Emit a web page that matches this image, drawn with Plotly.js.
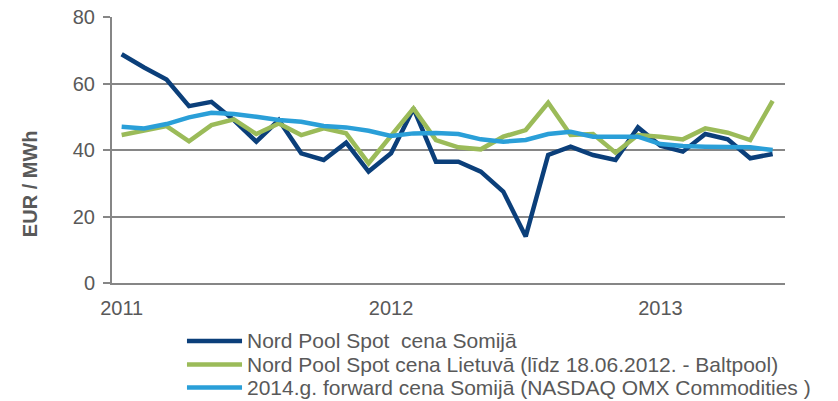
<!DOCTYPE html>
<html>
<head>
<meta charset="utf-8">
<script src="https://cdn.plot.ly/plotly-3.0.1.min.js"></script>
<style>html,body{margin:0;padding:0;background:#fff;}#chart{width:838px;height:401px;}</style>
</head>
<body>
<div id="chart"></div>
<script>
const months = ["2011-01","2011-02","2011-03","2011-04","2011-05","2011-06","2011-07","2011-08","2011-09","2011-10","2011-11","2011-12",
                "2012-01","2012-02","2012-03","2012-04","2012-05","2012-06","2012-07","2012-08","2012-09","2012-10","2012-11","2012-12",
                "2013-01","2013-02","2013-03","2013-04","2013-05","2013-06"];
const tickVals = ["2011-01","2012-01","2013-01"];
const tickText = ["2011","2012","2013"];
const seriesNames = ["Nord Pool Spot&nbsp; cena Somijā",
                     "Nord Pool Spot cena Lietuvā (līdz 18.06.2012. - Baltpool)",
                     "2014.g. forward cena Somijā (NASDAQ OMX Commodities )"];
const finland = [68.8,64.8,61.2,53.2,54.5,49,42.5,49,39,37,42.2,33.5,
                 39,52.5,36.5,36.5,33.5,27.5,14,38.5,41,38.5,37,46.8,
                 41.3,39.5,44.8,43.2,37.5,38.8];
const lithuania = [44.5,46,47.2,42.6,47.5,49.2,44.8,48,44.5,46.5,45,36,
                   44,52.5,43,40.8,40.2,44,46,54.2,44.5,44.8,39.2,44.5,
                   44,43.2,46.5,45.2,43,54.8];
const forward2014 = [47,46.5,47.8,49.8,51.2,50.8,50,49,48.5,47.2,46.8,45.8,
                     44.2,45,45.1,44.8,43.2,42.5,43,44.8,45.5,44,44,44,
                     41.8,41.2,41,41,40.8,40];
const colors = ["#0B3F7A","#9BBB59","#2A9FD8"];
const yTitle = "EUR / MWh";

const allSeries = [finland, lithuania, forward2014];
const font = "Arial, 'Liberation Sans', sans-serif";
const grey = "#595959";

const traces = allSeries.map((vals, k) => ({
  x: months, y: vals, type: "scatter", mode: "lines", name: seriesNames[k],
  line: {color: colors[k], width: 4.5}, showlegend: false, hoverinfo: "skip"
}));

// custom legend (long line samples like the original)
const shapes = [];
const annotations = [];
const legY = [-0.218, -0.306, -0.393];
colors.forEach((c, k) => {
  shapes.push({type: "line", xref: "paper", yref: "paper", x0: 0.1114, x1: 0.1932, y0: legY[k], y1: legY[k],
               line: {color: c, width: 4.5}});
  annotations.push({xref: "paper", yref: "paper", x: 0.197, y: legY[k], xanchor: "left", yanchor: "middle",
                    text: seriesNames[k], showarrow: false, font: {family: font, size: 21, color: grey}});
});
annotations.push({xref: "paper", yref: "paper", x: -0.122, y: 0.375, xanchor: "center", yanchor: "middle",
                  text: "<b>" + yTitle + "</b>", textangle: -90, showarrow: false,
                  font: {family: font, size: 20, color: grey}});

const layout = {
  width: 838, height: 401,
  margin: {l: 112, r: 53, t: 17, b: 118},
  paper_bgcolor: "#fff", plot_bgcolor: "#fff",
  font: {family: font, size: 20, color: grey},
  xaxis: {type: "category", range: [-0.43, 29.55], tickvals: tickVals, ticktext: tickText,
          showgrid: false, zeroline: false, showline: true, linecolor: "#868686", linewidth: 2,
          ticks: "", ticklen: 0, ticklabelstandoff: 6, tickfont: {family: font, size: 20, color: grey}, fixedrange: true},
  yaxis: {range: [0, 80], tickvals: [0,20,40,60,80], showgrid: true, gridcolor: "#868686", gridwidth: 2,
          zeroline: false, showline: true, linecolor: "#868686", linewidth: 2,
          ticks: "outside", ticklen: 7, tickcolor: "#868686", tickwidth: 2, ticklabelstandoff: 4,
          tickfont: {family: font, size: 20, color: grey}, fixedrange: true},
  shapes: shapes,
  annotations: annotations,
  showlegend: false
};
Plotly.newPlot("chart", traces, layout, {displayModeBar: false, staticPlot: true});
</script>
</body>
</html>
